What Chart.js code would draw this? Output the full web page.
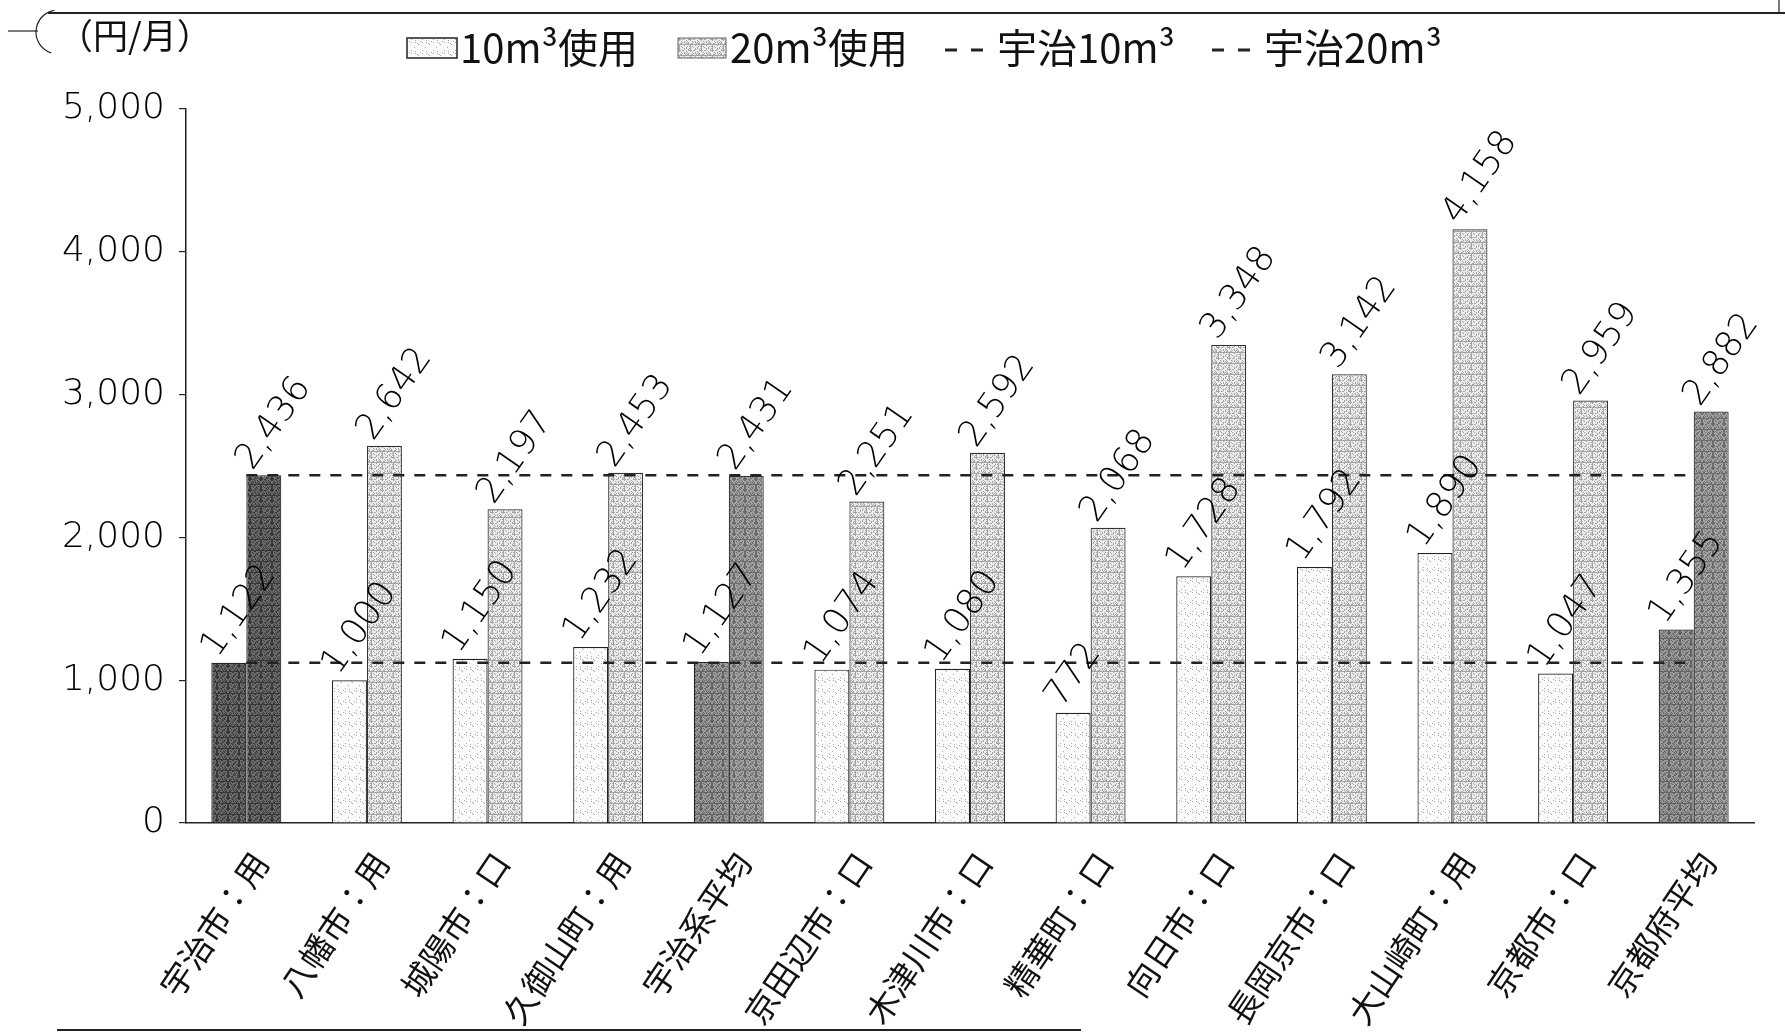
<!DOCTYPE html>
<html>
<head>
<meta charset="utf-8">
<script src="https://cdn.jsdelivr.net/npm/chart.js@4.4.1/dist/chart.umd.min.js"></script>
<style>
  html, body { margin: 0; padding: 0; background: #fff; }
  #wrap { position: relative; width: 1785px; height: 1034px; }
  canvas { display: block; }
</style>
</head>
<body>
<div id="wrap"><canvas id="c" width="1785" height="1034"></canvas></div>
<script>
// ---- data ----
const categories = ['宇治市：用','八幡市：用','城陽市：口','久御山町：用','宇治系平均','京田辺市：口','木津川市：口','精華町：口','向日市：口','長岡京市：口','大山崎町：用','京都市：口','京都府平均'];
const use10 = [1122, 1000, 1150, 1232, 1127, 1074, 1080, 772, 1728, 1792, 1890, 1047, 1355];
const use20 = [2436, 2642, 2197, 2453, 2431, 2251, 2592, 2068, 3348, 3142, 4158, 2959, 2882];
const yTicks = [0, 1000, 2000, 3000, 4000, 5000];
const seriesNames = ['10m³使用', '20m³使用', '宇治10m³', '宇治20m³'];
const unitLabel = '（円/月）';
const shadeKind10 = ['dark','plain','plain','plain','mid','plain','plain','plain','plain','plain','plain','plain','mid'];
const shadeKind20 = ['dark','plain','plain','plain','mid','plain','plain','plain','plain','plain','plain','plain','mid'];

// ---- stipple patterns (deterministic) ----
function makePattern(base, dot, every, size) {
  const n = size || 11;
  const c = document.createElement('canvas');
  c.width = n; c.height = n;
  const g = c.getContext('2d');
  g.fillStyle = base; g.fillRect(0, 0, n, n);
  g.fillStyle = dot;
  for (let i = 0; i < n; i++) for (let j = 0; j < n; j++) {
    if (((i * 5 + j * 3 + i * j * 7 + (i ^ j)) % every) === 0) g.fillRect(i, j, 1, 1);
  }
  return g.createPattern(c, 'repeat');
}
const ctx = document.getElementById('c').getContext('2d');
const pat = {
  p10: makePattern('#fbfbfb', '#a8a8a8', 13),
  p20: makePattern('#ececec', '#a4a4a4', 6),
  dark: makePattern('#6c6c6c', '#383838', 3),
  mid10: makePattern('#9c9c9c', '#646464', 3),
  mid20: makePattern('#a4a4a4', '#6c6c6c', 3)
};
const bg10 = shadeKind10.map(k => k === 'dark' ? pat.dark : k === 'mid' ? pat.mid10 : pat.p10);
const bg20 = shadeKind20.map(k => k === 'dark' ? pat.dark : k === 'mid' ? pat.mid20 : pat.p20);

const fmt = v => v.toLocaleString('en-US');
const numFont = '"DejaVu Sans"';

// ---- value labels on the bars ----
const valueLabels = {
  id: 'valueLabels',
  afterDatasetsDraw(chart) {
    const c = chart.ctx;
    c.save();
    c.font = '200 36px ' + numFont;
    c.fillStyle = '#000';
    c.textAlign = 'left';
    c.textBaseline = 'alphabetic';
    [0, 1].forEach(di => {
      const meta = chart.getDatasetMeta(di);
      meta.data.forEach((el, i) => {
        const v = chart.data.datasets[di].data[i];
        const left = el.x - el.width / 2;
        c.save();
        c.translate(left + 6, el.y - 4);
        c.rotate(-55 * Math.PI / 180);
        c.fillText(fmt(v), 0, 0);
        c.restore();
      });
    });
    c.restore();
  }
};

// ---- legend, unit label and frame lines ----
const decor = {
  id: 'decor',
  afterDraw(chart) {
    const c = chart.ctx;
    c.save();
    c.strokeStyle = '#222'; c.lineWidth = 2;
    c.beginPath(); c.moveTo(48, 13); c.lineTo(1785, 13); c.stroke();
    c.lineWidth = 1.2;
    c.beginPath(); c.moveTo(1779, 0); c.lineTo(1779, 14); c.stroke();
    c.beginPath(); c.arc(58, 32, 22, Math.PI * 0.6, Math.PI * 1.45); c.stroke();
    c.beginPath(); c.moveTo(8, 31); c.lineTo(38, 31); c.stroke();
    c.lineWidth = 2;
    c.beginPath(); c.moveTo(57, 1030); c.lineTo(1081, 1030); c.stroke();
    c.fillStyle = '#111';
    c.font = '35px "Noto Sans CJK JP"';
    c.textBaseline = 'middle';
    c.textAlign = 'left';
    c.fillText(unitLabel, 58, 36);
    const y = 48;
    c.font = '40px "Noto Sans CJK JP"';
    let x = 407;
    c.fillStyle = pat.p10; c.fillRect(x, y - 10, 50, 20);
    c.strokeStyle = '#222'; c.lineWidth = 1.5; c.strokeRect(x, y - 10, 50, 20);
    c.fillStyle = '#111'; c.fillText(seriesNames[0], x + 53, y);
    x = 678;
    c.fillStyle = pat.p20; c.fillRect(x, y - 10, 48, 20);
    c.strokeStyle = '#666'; c.lineWidth = 1; c.strokeRect(x, y - 10, 48, 20);
    c.fillStyle = '#111'; c.fillText(seriesNames[1], x + 52, y);
    [[945, seriesNames[2]], [1212, seriesNames[3]]].forEach(([lx, t]) => {
      c.strokeStyle = '#222'; c.lineWidth = 3; c.setLineDash([12, 14]);
      c.beginPath(); c.moveTo(lx, y + 2); c.lineTo(lx + 40, y + 2); c.stroke();
      c.setLineDash([]);
      c.fillStyle = '#111'; c.fillText(t, lx + 52, y);
    });
    c.restore();
  }
};

new Chart(ctx, {
  data: {
    labels: categories,
    datasets: [
      { type: 'bar', label: seriesNames[0], data: use10, backgroundColor: bg10,
        borderColor: '#222', borderWidth: 1.2, order: 2 },
      { type: 'bar', label: seriesNames[1], data: use20, backgroundColor: bg20,
        borderColor: '#333', borderWidth: 1.2, order: 2 },
      { type: 'line', label: seriesNames[2],
        data: [{ x: categories[0], y: use10[0] }, { x: categories[categories.length - 1], y: use10[0] }],
        borderColor: '#222', borderWidth: 2.5, borderDash: [11, 10], pointRadius: 0, fill: false, order: 0 },
      { type: 'line', label: seriesNames[3],
        data: [{ x: categories[0], y: use20[0] }, { x: categories[categories.length - 1], y: use20[0] }],
        borderColor: '#222', borderWidth: 2.5, borderDash: [11, 10], pointRadius: 0, fill: false, order: 0 }
    ]
  },
  options: {
    responsive: false,
    animation: false,
    events: [],
    layout: { padding: { top: 109, right: 31, left: 0, bottom: 0 } },
    plugins: { legend: { display: false }, tooltip: { enabled: false }, title: { display: false } },
    datasets: { bar: { barPercentage: 1.0, categoryPercentage: 0.58 } },
    scales: {
      x: {
        type: 'category',
        offset: true,
        grid: { display: false },
        border: { display: true, color: '#222', width: 1.5 },
        ticks: {
          autoSkip: false, minRotation: 56, maxRotation: 56,
          color: '#111', font: { family: '"Noto Sans CJK JP"', size: 33 },
          padding: 14, labelOffset: 14
        },
        afterFit: s => { s.height = 1034 - 823; }
      },
      y: {
        min: 0, max: 5000,
        afterBuildTicks: s => { s.ticks = yTicks.map(v => ({ value: v })); },
        grid: { display: true, drawOnChartArea: false, drawTicks: true, tickLength: 7, color: '#222', lineWidth: 1.2 },
        border: { display: true, color: '#222', width: 1.5 },
        ticks: {
          color: '#000', font: { family: numFont, size: 36, weight: 200 }, padding: 14,
          callback: v => fmt(v)
        },
        afterFit: s => { s.width = 186; }
      }
    }
  },
  plugins: [valueLabels, decor]
});
</script>
</body>
</html>
